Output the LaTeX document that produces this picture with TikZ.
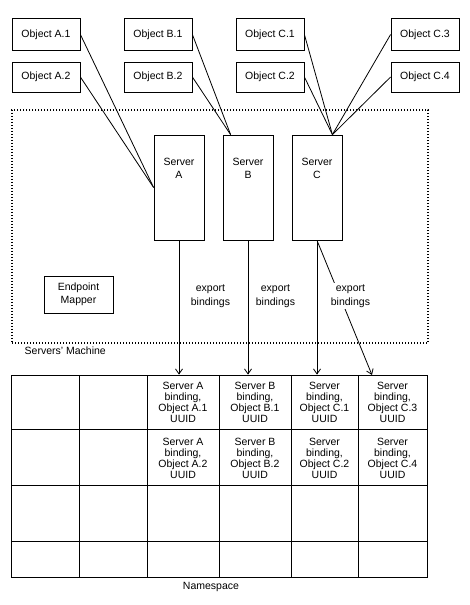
\documentclass[tikz,border=0pt]{standalone}
\usepackage{fontspec}
\setmainfont{Liberation Sans}
\usetikzlibrary{arrows.meta}
\tikzset{>={Straight Barb[length=5pt,width=7pt]}}
\tikzstyle{object}=[draw, minimum width=68pt, minimum height=32pt, inner sep=0pt]
\tikzstyle{server}=[draw, minimum width=50pt, minimum height=105pt, inner sep=0pt]
\tikzstyle{cell}=[align=center, inner sep=0pt, font=\fontsize{10.5}{11}\selectfont]
\tikzstyle{export}=[align=center, anchor=west, inner sep=1.5pt, font=\fontsize{10.5}{14.5}\selectfont]
\newcommand{\object}{\node[object]}
\newcommand{\server}{\node[server]}

\begin{document}
\begin{tikzpicture}[x=1pt, y=-1pt, line width=0.8pt, font=\fontsize{10.5}{13}\selectfont]
\useasboundingbox (0,0) rectangle (470,605);
% client objects
\object (oa1) at (46,34.5) {Object A.1};
\object[minimum height=30pt] (oa2) at (46,77) {Object A.2};
\object (ob1) at (158,34.5) {Object B.1};
\object[minimum height=30pt] (ob2) at (158,77) {Object B.2};
\object (oc1) at (270,34.5) {Object C.1};
\object[minimum height=30pt] (oc2) at (270,77) {Object C.2};
\object (oc3) at (425,34.5) {Object C.3};
\object[minimum height=30pt] (oc4) at (425,77) {Object C.4};
% the machine
\node (machine) [draw, line width=1.4pt, dash pattern=on 1.3pt off 1.7pt,
  minimum width=416pt, minimum height=233pt, inner sep=0pt,
  label={[anchor=north west, inner sep=0pt, xshift=13pt, yshift=-3pt]south west:Servers' Machine}]
  at (220,226.5) {};
\server (sa) at (179,187.5)
  [label={[align=center, anchor=north, yshift=-20pt]north:Server\\A}] {};
\server (sb) at (248,187.5)
  [label={[align=center, anchor=north, yshift=-20pt]north:Server\\B}] {};
\server (sc) at (317,187.5)
  [label={[align=center, anchor=north, yshift=-20pt]north:Server\\C}] {};
\node (epm) [draw, align=center, minimum width=69pt, minimum height=37pt, inner sep=0pt]
  at (78.5,294.5) {Endpoint\\Mapper};
\coordinate (sbin) at ([xshift=8pt]sb.north west);
\coordinate (scin) at ([xshift=-10pt]sc.north east);
\draw
(oa1.east) edge (sa.west)
(oa2.east) edge (sa.west)
(ob1.east) edge (sbin)
(ob2.east) edge (sbin)
(oc1.east) edge (scin)
(oc2.east) edge (scin)
(oc3.west) edge (scin)
(oc4.west) edge (scin);
% namespace table
\node (ns) [draw, minimum width=416pt, minimum height=202pt, inner sep=0pt,
  label={[inner sep=0pt, yshift=-4pt, xshift=-8pt]south:Namespace}] at (219,476) {};
\foreach \x in {79,147,219,291,358}
  \draw (\x,375) -- (\x,577);
\foreach \y in {429,485,541}
  \draw (11,\y) -- (427,\y);
\node[cell] (na1) at (183,402) {Server A\\binding,\\Object A.1\\UUID};
\node[cell] (na2) at (183,458) {Server A\\binding,\\Object A.2\\UUID};
\node[cell] (nb1) at (255,402) {Server B\\binding,\\Object B.1\\UUID};
\node[cell] (nb2) at (255,458) {Server B\\binding,\\Object B.2\\UUID};
\node[cell] (nc1) at (324.5,402) {Server\\binding,\\Object C.1\\UUID};
\node[cell] (nc2) at (324.5,458) {Server\\binding,\\Object C.2\\UUID};
\node[cell] (nc3) at (392.5,402) {Server\\binding,\\Object C.3\\UUID};
\node[cell] (nc4) at (392.5,458) {Server\\binding,\\Object C.4\\UUID};
% exporting
\coordinate (nsc3) at (372,375);
\draw
(sa.south) edge[->] (sa.south |- ns.north)
(sb.south) edge[->] (sb.south |- ns.north)
(sc.south) edge[->] (sc.south |- ns.north)
(sc.south) edge[->] (nsc3);
\node[export] (ea) at (189,296) {export\\bindings};
\node[export] (eb) at (254,296) {export\\bindings};
\node[export, fill=white] (ec) at (329,296) {export\\bindings};
\end{tikzpicture}
\end{document}
